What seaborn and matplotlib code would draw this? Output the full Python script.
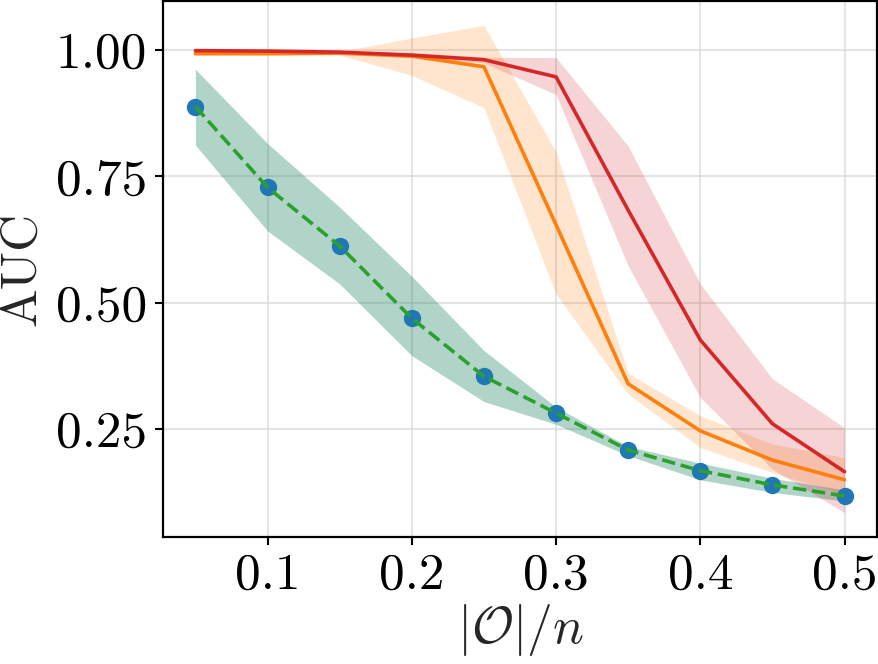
import numpy as np
import pandas as pd
import matplotlib
matplotlib.use("Agg")
import matplotlib.pyplot as plt
import seaborn as sns

# ---- data ----
x = [0.05, 0.10, 0.15, 0.20, 0.25, 0.30, 0.35, 0.40, 0.45, 0.50]

blue_mean = [0.888, 0.728, 0.612, 0.469, 0.354, 0.281, 0.208, 0.167, 0.139, 0.117]
blue_low = [0.812, 0.642, 0.537, 0.395, 0.304, 0.259, 0.197, 0.149, 0.124, 0.107]
blue_high = [0.962, 0.815, 0.689, 0.552, 0.405, 0.293, 0.215, 0.182, 0.152, 0.129]

orange_mean = [0.993, 0.993, 0.994, 0.988, 0.967, 0.654, 0.339, 0.246, 0.188, 0.149]
orange_low = [0.990, 0.990, 0.990, 0.950, 0.886, 0.517, 0.319, 0.213, 0.163, 0.120]
orange_high = [0.996, 0.996, 0.997, 1.024, 1.049, 0.798, 0.360, 0.276, 0.220, 0.193]

green_mean = blue_mean
green_low = blue_low
green_high = blue_high

red_mean = [0.999, 0.998, 0.996, 0.990, 0.981, 0.947, 0.683, 0.426, 0.260, 0.165]
red_low = [0.997, 0.996, 0.994, 0.985, 0.975, 0.912, 0.573, 0.312, 0.170, 0.084]
red_high = [1.000, 1.000, 0.998, 0.995, 0.986, 0.985, 0.810, 0.537, 0.349, 0.252]

xticks = [0.1, 0.2, 0.3, 0.4, 0.5]
yticks = [0.25, 0.50, 0.75, 1.00]
xlabel = r"$|\mathcal{O}|/n$"
ylabel = "AUC"

# ---- style ----
sns.set_style("ticks")
plt.rcParams["font.family"] = "serif"
plt.rcParams["font.serif"] = ["cmr10"]
plt.rcParams["mathtext.fontset"] = "cm"
plt.rcParams["axes.formatter.use_mathtext"] = True
plt.rcParams["axes.unicode_minus"] = False

fig = plt.figure(figsize=(8.79, 6.64), dpi=100)
ax = fig.add_axes([0.1854, 0.1913, 0.8123, 0.8072])

C0, C1, C2, C3 = "#1f77b4", "#ff7f0e", "#2ca02c", "#d62728"
lw = 2.6

# blue: markers only, with band
sns.lineplot(x=x, y=blue_mean, ax=ax, color=C0, marker="o", linestyle="",
             markersize=12.5, markeredgewidth=0, errorbar=None)
ax.fill_between(x, blue_low, blue_high, color=C0, alpha=0.2, linewidth=0)

# orange
sns.lineplot(x=x, y=orange_mean, ax=ax, color=C1, linewidth=lw, errorbar=None)
ax.fill_between(x, orange_low, orange_high, color=C1, alpha=0.2, linewidth=0)

# green dashed
sns.lineplot(x=x, y=green_mean, ax=ax, color=C2, linewidth=lw, linestyle="--", errorbar=None)
ax.fill_between(x, green_low, green_high, color=C2, alpha=0.2, linewidth=0)

# red
sns.lineplot(x=x, y=red_mean, ax=ax, color=C3, linewidth=lw, errorbar=None)
ax.fill_between(x, red_low, red_high, color=C3, alpha=0.2, linewidth=0)

ax.set_xticks(xticks)
ax.set_yticks(yticks)
ax.set_xticklabels([f"{v:.1f}" for v in xticks])
ax.set_yticklabels([f"{v:.2f}" for v in yticks])
ax.grid(True, color="#d9d9d9", alpha=0.7, linewidth=1.5)
ax.set_axisbelow(True)

for s in ax.spines.values():
    s.set_linewidth(1.6)
    s.set_color("black")
ax.tick_params(axis="both", labelsize=37, length=5.5, width=1.5, pad=6, colors="black")

ax.set_xlabel(xlabel, fontsize=37, labelpad=2)
ax.set_ylabel(ylabel, fontsize=37, labelpad=8)

fig.savefig("out.png", dpi=100)
